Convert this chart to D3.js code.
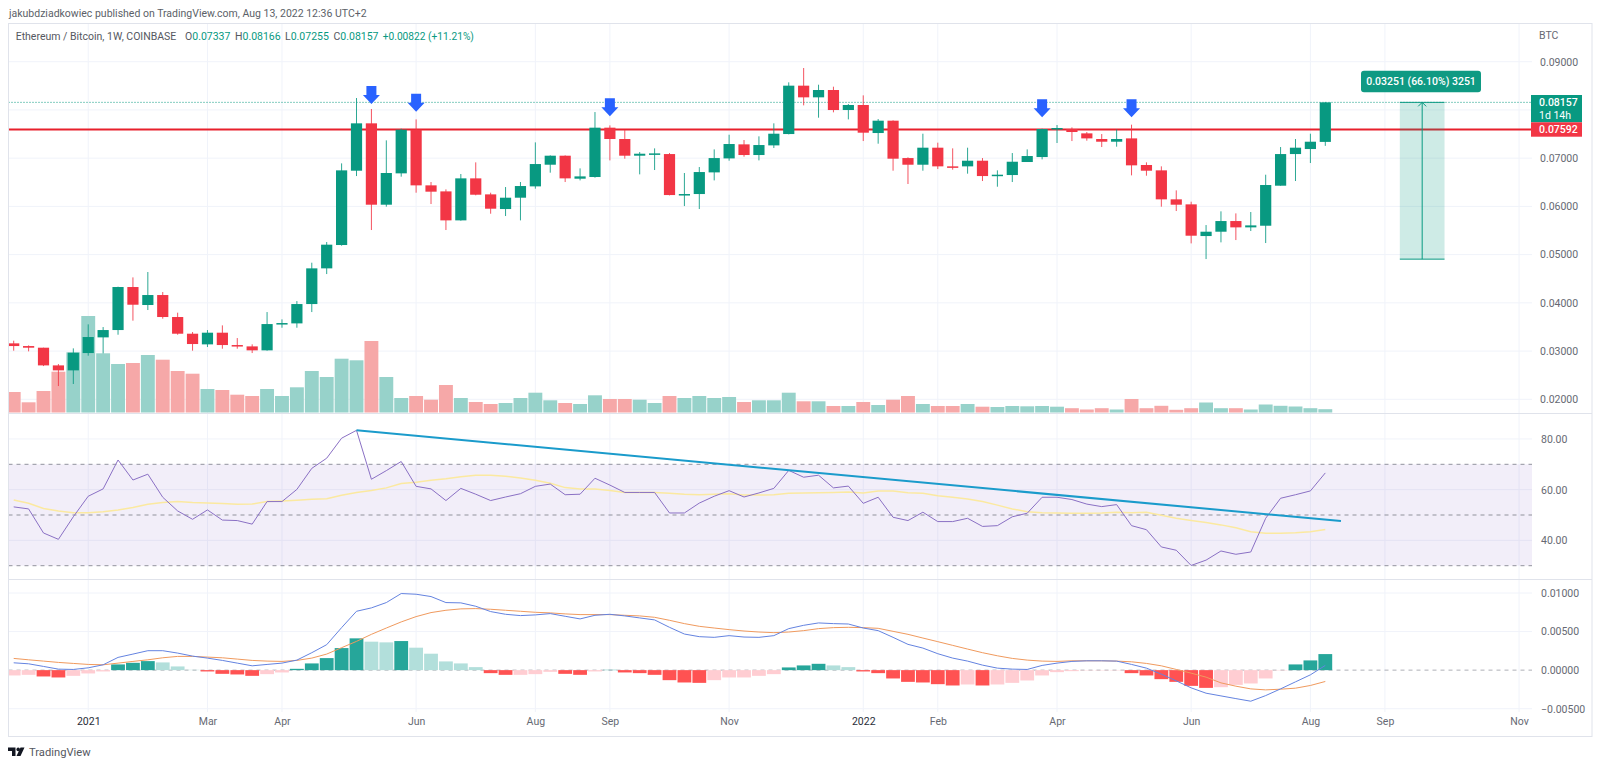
<!DOCTYPE html>
<html>
<head>
<meta charset="utf-8">
<title>ETHBTC 1W</title>
<script src="https://cdn.jsdelivr.net/npm/d3@7"></script>
<style>
    html, body { margin: 0; padding: 0; background: #fff; }
    svg { display: block; font-family: Roboto, sans-serif; }
</style>
</head>
<body>
<div id="chart"></div>
<script>
const opens = [
    .03160,.03104,.03070,.02703,.02600,.02959,.03284,.03436,.04328,.03955,
    .04162,.03706,.03360,.03139,.03381,.03125,.03097,.03015,.03554,.03574,
    .03975,.04715,.05199,.06740,.07722,.06035,.06685,.07590,.06436,.06311,
    .05710,.06581,.06249,.05945,.06180,.06415,.06864,.07051,.06574,.06609,
    .07632,.07397,.07051,.07072,.07085,.06235,.06256,.06705,.06995,.07286,
    .07065,.07265,.07500,.08503,.08261,.08413,.07998,.08102,.07521,.07777,
    .07002,.06864,.07217,.06830,.06830,.06947,.06629,.06650,.06920,.07023,
    .07604,.07604,.07514,.07397,.07341,.07410,.06858,.06747,.06146,.06042,
    .05385,.05475,.05696,.05565,.05599,.06429,.07085,.07189,.07337
];
const highs = [
    .03215,.03118,.03070,.02731,.03056,.03554,.03498,.04335,.04528,.04639,
    .04224,.03796,.03395,.03436,.03533,.03270,.03139,.03809,.03657,.04037,
    .04832,.05261,.06892,.08247,.08019,.07369,.07611,.07804,.06505,.06353,
    .06671,.06913,.06284,.06401,.06505,.07327,.07058,.07058,.06788,.07956,
    .07680,.07583,.07127,.07203,.07106,.06692,.06816,.07182,.07486,.07376,
    .07452,.07722,.08572,.08869,.08523,.08482,.08122,.08302,.07811,.07784,
    .07017,.07507,.07321,.07203,.07217,.07002,.06747,.07106,.07182,.07611,
    .07687,.07638,.07542,.07500,.07597,.07694,.06913,.06830,.06332,.06097,
    .05613,.05897,.05855,.05883,.06657,.07231,.07397,.07507,.08166
];
const lows = [
    .03008,.02994,.02689,.02275,.02317,.02904,.02952,.03339,.03630,.03851,
    .03671,.03339,.03008,.03084,.03049,.03049,.02959,.03008,.03484,.03484,
    .03809,.04597,.05185,.06629,.05510,.05994,.06616,.06284,.06049,.05510,
    .05703,.06229,.05848,.05800,.05710,.06367,.06699,.06505,.06539,.06595,
    .06954,.06989,.06664,.06754,.06228,.06007,.05945,.06539,.06947,.07030,
    .06954,.07210,.07493,.08095,.07839,.07950,.07804,.07355,.07300,.06740,
    .06464,.06740,.06774,.06761,.06678,.06526,.06408,.06505,.06920,.06975,
    .07314,.07355,.07362,.07231,.07238,.06643,.06636,.05994,.05904,.05233,
    .04908,.05254,.05302,.05489,.05240,.06429,.06526,.06899,.07255
];
const closes = [
    .03104,.03070,.02703,.02600,.02966,.03291,.03436,.04328,.03961,.04162,
    .03706,.03360,.03146,.03381,.03125,.03104,.03015,.03560,.03581,.03975,
    .04715,.05206,.06747,.07722,.06035,.06692,.07590,.06436,.06305,.05710,
    .06581,.06242,.05952,.06180,.06422,.06878,.07051,.06581,.06622,.07632,
    .07397,.07051,.07092,.07099,.06235,.06256,.06712,.07002,.07293,.07065,
    .07272,.07507,.08503,.08261,.08413,.07998,.08102,.07528,.07777,.06989,
    .06864,.07217,.06830,.06809,.06947,.06629,.06657,.06926,.07044,.07604,
    .07625,.07542,.07410,.07341,.07397,.06851,.06740,.06146,.06035,.05392,
    .05475,.05696,.05565,.05606,.06443,.07085,.07217,.07341,.08157
];
// объём в условных единицах
const volumes = [
    20.5,10.2,21.5,40.8,60.2,96.5,59.2,48.5,49.5,57.5,
    52.8,41.5,38.8,23.5,22.5,17.8,16.5,23.5,16.5,25.2,
    41.5,35.5,53.8,52.2,71.5,35.5,14.5,16.5,12.8,27.5,
    14.5,10.5,8.5,9.5,14.5,19.8,12.2,9.5,8.5,17.2,
    13.5,13.5,12.8,9.5,16.5,14.5,16.5,14.5,15.5,10.5,
    12.2,12.2,19.8,11.2,11.2,6.5,6.5,10.5,7.5,12.8,
    16.5,8.5,6.5,6.5,8.5,5.8,5.5,6.5,6.2,6.5,
    5.8,4.3,3,4.3,3,13.5,4.3,6.7,2.7,4.3,
    10,4.3,4.3,3,8,6.7,6,4.3,3.3
];
const rsiValues = [
    53.2,52.4,42.9,40.4,49.3,57.4,60.3,71.7,63.8,66.1,
    57.0,51.6,48.3,52.0,48.0,47.8,46.4,55.3,55.3,60.1,
    68.4,72.4,80.3,83.4,64.1,67.5,71.1,61.3,60.3,55.7,
    60.5,58.2,55.7,57.1,58.4,61.3,62.2,58.0,58.2,64.5,
    61.8,58.9,58.9,58.9,50.8,50.8,54.7,57.4,59.6,57.1,
    58.7,60.5,67.6,64.9,65.7,60.7,61.4,54.6,57.0,49.1,
    47.8,51.1,47.4,47.4,48.7,45.5,45.8,49.3,50.7,57.0,
    57.0,56.1,54.3,53.3,54.1,45.8,44.2,37.4,36.1,30.1,
    32.2,35.8,34.5,35.4,48.7,56.6,58.0,59.5,66.6
];
const rsiMa = [
    55.9,54.6,52.6,51.6,50.9,50.9,51.3,52.0,53.0,54.2,
    54.9,55.3,54.9,54.7,54.5,54.2,54.3,55.3,55.5,55.8,
    56.2,56.4,57.8,58.9,59.7,60.7,62.4,62.9,63.7,64.3,
    65.1,65.7,65.7,65.3,64.6,63.7,62.5,60.8,60.3,60.3,
    59.7,58.9,58.9,58.9,58.6,58.2,58.0,58.2,58.4,57.9,
    57.9,58.0,58.6,58.7,58.8,58.9,59.1,58.7,59.5,59.5,
    58.8,58.6,57.6,57.0,56.3,55.3,53.9,52.4,51.3,50.9,
    50.8,50.7,50.7,50.8,51.1,50.9,51.1,49.9,48.7,47.8,
    47.0,46.1,45.0,43.4,42.8,42.8,43.0,43.4,44.3
];
const macdLine = [
    .00095,.00082,.00048,.00013,.00009,.00030,.00069,.00165,.00208,.00252,
    .00252,.00221,.00182,.00156,.00126,.00091,.00056,.00074,.00091,.00130,
    .00226,.00330,.00551,.00763,.00807,.00876,.00993,.00984,.00954,.00876,
    .00872,.00828,.00759,.00724,.00707,.00716,.00733,.00698,.00664,.00711,
    .00724,.00703,.00677,.00651,.00555,.00468,.00434,.00425,.00447,.00429,
    .00425,.00447,.00538,.00581,.00612,.00603,.00598,.00546,.00512,.00425,
    .00334,.00286,.00213,.00156,.00117,.00065,.00026,.00013,.00009,.00061,
    .00091,.00113,.00121,.00121,.00117,.00074,.00026,-.00052,-.00139,-.00230,
    -.00299,-.00334,-.00369,-.00403,-.00330,-.00243,-.00152,-.00061,.00061
];
const signalLine = [
    .00152,.00134,.00117,.00100,.00087,.00074,.00069,.00091,.00113,.00134,
    .00160,.00178,.00178,.00169,.00160,.00143,.00126,.00117,.00113,.00126,
    .00156,.00208,.00291,.00373,.00464,.00546,.00625,.00694,.00746,.00776,
    .00794,.00798,.00789,.00776,.00763,.00750,.00742,.00729,.00720,.00720,
    .00720,.00711,.00703,.00685,.00646,.00603,.00568,.00546,.00525,.00507,
    .00494,.00486,.00494,.00512,.00538,.00551,.00555,.00551,.00542,.00503,
    .00464,.00416,.00369,.00321,.00273,.00226,.00186,.00152,.00130,.00117,
    .00113,.00121,.00121,.00121,.00117,.00108,.00087,.00056,.00009,-.00039,
    -.00091,-.00165,-.00208,-.00243,-.00256,-.00247,-.00234,-.00199,-.00147
];
const histValues = [
    -.00069,-.00061,-.00082,-.00095,-.00074,-.00043,-.00017,.00074,.00095,.00117,
    .00100,.00048,.00004,-.00017,-.00048,-.00056,-.00074,-.00052,-.00030,.00017,
    .00087,.00156,.00286,.00412,.00369,.00360,.00377,.00291,.00213,.00113,
    .00087,.00039,-.00039,-.00061,-.00061,-.00052,-.00022,-.00048,-.00061,-.00017,
    .00004,-.00030,-.00039,-.00061,-.00130,-.00160,-.00165,-.00130,-.00095,-.00095,
    -.00074,-.00052,.00035,.00061,.00082,.00061,.00039,-.00017,-.00039,-.00108,
    -.00152,-.00160,-.00182,-.00199,-.00186,-.00199,-.00186,-.00165,-.00134,-.00069,
    -.00026,-.00013,-.00004,-.00004,-.00004,-.00039,-.00069,-.00117,-.00152,-.00204,
    -.00230,-.00221,-.00191,-.00173,-.00108,-.00004,.00074,.00126,.00208
];

const tickBars = [5, 13, 18, 27, 35, 40, 48, 57, 62, 70, 79, 87, 92, 101];
const tickLabels = ['2021', 'Mar', 'Apr', 'Jun', 'Aug', 'Sep', 'Nov', '2022', 'Feb', 'Apr', 'Jun', 'Aug', 'Sep', 'Nov'];
const priceTicks = [.02, .03, .04, .05, .06, .07, .08, .09];
const priceLabelTicks = [.02, .03, .04, .05, .06, .07, .09];  // 0.08 закрыта меткой цены
const rsiTicks = [40, 60, 80];
const rsiBands = [30, 50, 70];
const macdTicks = [-.005, 0, .005, .01];

const supportLevel = 0.07592;
const arrowBars = [24, 27, 40, 69, 75];
const arrowTips = [.08122, .07963, .07867, .07846, .07846];
const trendBars = [23, 89.05];
const trendValues = [83.4, 47.6];
const measureBars = [93, 96];
const measurePrices = [.04906, .08157];

const legendNames = ['O', 'H', 'L', 'C'];
const legendValues = ['0.07337', '0.08166', '0.07255', '0.08157'];
const legendLefts = [185, 235, 285, 333.5];

const GREEN = '#089981', RED = '#f23645';
const GRID = '#f0f3fa', BORDER = '#e0e3eb', TEXT = '#666973';
const paneLeft = 8.5, paneRight = 1532, frameRight = 1592;

const svg = d3.select('#chart').append('svg').attr('width', 1600).attr('height', 767);

const x = d3.scaleLinear().domain([0, 88]).range([13.7, 1325.3]);
const yPrice = d3.scaleLinear().domain([.02, .09]).range([399.3, 61.7]);
const yVol = d3.scaleLinear().domain([0, 100]).range([412.5, 312.5]);
const yRsi = d3.scaleLinear().domain([30, 70]).range([565.7, 464.3]);
const yMacd = d3.scaleLinear().domain([-.005, .01]).range([708.7, 593]);

svg.append('defs').append('clipPath').attr('id', 'pane')
    .append('rect').attr('x', paneLeft).attr('y', 24).attr('width', paneRight - paneLeft).attr('height', 688);
const plot = svg.append('g').attr('clip-path', 'url(#pane)');

// Сетка
plot.append('g').selectAll('line').data(tickBars).join('line')
    .attr('x1', d => x(d)).attr('x2', d => x(d))
    .attr('y1', 24).attr('y2', 712)
    .attr('stroke', GRID);

function gridLines(ticks, scale) {
    plot.append('g').selectAll('line').data(ticks).join('line')
        .attr('x1', paneLeft).attr('x2', paneRight)
        .attr('y1', d => scale(d)).attr('y2', d => scale(d))
        .attr('stroke', GRID);
}
gridLines(priceTicks, yPrice);
gridLines(rsiTicks, yRsi);
gridLines(macdTicks.filter(d => d !== 0), yMacd);

// Объём
const isUp = i => closes[i] >= opens[i];
plot.append('g').selectAll('rect').data(volumes).join('rect')
    .attr('x', (d, i) => x(i) - 6.95).attr('width', 13.9)
    .attr('y', d => yVol(d)).attr('height', d => yVol(0) - yVol(d))
    .attr('fill', (d, i) => isUp(i) ? '#97d2ca' : '#f6a8a8');

// Уровень и линия последней цены
plot.append('line')
    .attr('x1', paneLeft).attr('x2', paneRight)
    .attr('y1', yPrice(supportLevel)).attr('y2', yPrice(supportLevel))
    .attr('stroke', '#e8202c').attr('stroke-width', 2);
plot.append('line')
    .attr('x1', paneLeft).attr('x2', paneRight)
    .attr('y1', yPrice(closes[88])).attr('y2', yPrice(closes[88]))
    .attr('stroke', GREEN).attr('stroke-dasharray', '1 2');

// Инструмент измерения
const measure = svg.append('g');
const measureMid = (measureBars[0] + measureBars[1]) / 2;
measure.append('rect')
    .attr('x', x(measureBars[0])).attr('width', x(measureBars[1]) - x(measureBars[0]))
    .attr('y', yPrice(measurePrices[1])).attr('height', yPrice(measurePrices[0]) - yPrice(measurePrices[1]))
    .attr('fill', GREEN).attr('fill-opacity', 0.2);
measure.selectAll('line.edge').data(measurePrices).join('line')
    .attr('class', 'edge')
    .attr('x1', x(measureBars[0])).attr('x2', x(measureBars[1]))
    .attr('y1', d => yPrice(d)).attr('y2', d => yPrice(d))
    .attr('stroke', GREEN);
measure.append('line')
    .attr('x1', x(measureMid)).attr('x2', x(measureMid))
    .attr('y1', yPrice(measurePrices[0])).attr('y2', yPrice(measurePrices[1]))
    .attr('stroke', GREEN);
measure.append('path')
    .attr('transform', `translate(${x(measureMid)},${yPrice(measurePrices[1])})`)
    .attr('d', 'M-4,4L0,0L4,4')
    .attr('fill', 'none').attr('stroke', GREEN);
measure.append('rect')
    .attr('x', 1361).attr('y', 70.7).attr('width', 120).attr('height', 21.6).attr('rx', 3)
    .attr('fill', '#0f9a83');
measure.append('text')
    .attr('x', 1421).attr('y', 85.2).attr('text-anchor', 'middle')
    .attr('font-size', 10.5).attr('font-weight', 500).attr('fill', '#fff')
    .text('0.03251 (66.10%) 3251');

// Свечи
const candles = plot.append('g').selectAll('g').data(opens).join('g')
    .attr('fill', (d, i) => isUp(i) ? GREEN : RED)
    .attr('stroke', (d, i) => isUp(i) ? GREEN : RED);
candles.append('line')
    .attr('x1', (d, i) => x(i)).attr('x2', (d, i) => x(i))
    .attr('y1', (d, i) => yPrice(highs[i])).attr('y2', (d, i) => yPrice(lows[i]))
    .attr('stroke-opacity', 0.85);
candles.append('rect')
    .attr('stroke', 'none')
    .attr('x', (d, i) => x(i) - 5.6).attr('width', 11.2)
    .attr('y', (d, i) => yPrice(Math.max(opens[i], closes[i])))
    .attr('height', (d, i) => Math.max(Math.abs(yPrice(opens[i]) - yPrice(closes[i])), 1.5));

// Стрелки
svg.append('g').selectAll('path').data(arrowBars).join('path')
    .attr('transform', (d, i) => `translate(${x(d)},${yPrice(arrowTips[i])})`)
    .attr('d', 'M0,0L-8.5,-9L-5,-9L-5,-18L5,-18L5,-9L8.5,-9Z')
    .attr('fill', '#2962ff');

// RSI
plot.append('rect')
    .attr('x', paneLeft).attr('width', paneRight - paneLeft)
    .attr('y', yRsi(70)).attr('height', yRsi(30) - yRsi(70))
    .attr('fill', '#7e57c2').attr('fill-opacity', 0.1);
plot.append('g').selectAll('line').data(rsiBands).join('line')
    .attr('x1', paneLeft).attr('x2', paneRight)
    .attr('y1', d => yRsi(d)).attr('y2', d => yRsi(d))
    .attr('stroke', '#787b86').attr('stroke-opacity', 0.8).attr('stroke-dasharray', '4 4');

const rsiPath = d3.line().x((d, i) => x(i)).y(d => yRsi(d));
plot.append('path').datum(rsiMa).attr('d', rsiPath)
    .attr('fill', 'none').attr('stroke', '#fbe9a0').attr('stroke-width', 1.5);
plot.append('path').datum(rsiValues).attr('d', rsiPath)
    .attr('fill', 'none').attr('stroke', '#8a70c4').attr('stroke-width', 1);
plot.append('line')
    .attr('x1', x(trendBars[0])).attr('x2', x(trendBars[1]))
    .attr('y1', yRsi(trendValues[0])).attr('y2', yRsi(trendValues[1]))
    .attr('stroke', '#1a9bcb').attr('stroke-width', 2);

// MACD
plot.append('line')
    .attr('x1', paneLeft).attr('x2', paneRight)
    .attr('y1', yMacd(0)).attr('y2', yMacd(0))
    .attr('stroke', '#787b86').attr('stroke-opacity', 0.6).attr('stroke-dasharray', '4 4');

function histColor(d, i) {
    const rising = i === 0 || d >= histValues[i - 1];
    if (d >= 0) return rising ? '#26a69a' : '#b2dfdb';
    return rising ? '#ffcdd2' : '#ff5252';
}
plot.append('g').selectAll('rect').data(histValues).join('rect')
    .attr('x', (d, i) => x(i) - 6.9).attr('width', 13.8)
    .attr('y', d => yMacd(Math.max(d, 0)))
    .attr('height', d => Math.abs(yMacd(d) - yMacd(0)))
    .attr('fill', histColor);

const macdPath = d3.line().x((d, i) => x(i)).y(d => yMacd(d));
plot.append('path').datum(signalLine).attr('d', macdPath)
    .attr('fill', 'none').attr('stroke', '#f09a5e').attr('stroke-width', 1);
plot.append('path').datum(macdLine).attr('d', macdPath)
    .attr('fill', 'none').attr('stroke', '#6483e0').attr('stroke-width', 1);

// Рамка и разделители панелей
svg.append('rect')
    .attr('x', 8.5).attr('y', 23.5).attr('width', frameRight - 8.5).attr('height', 713)
    .attr('fill', 'none').attr('stroke', BORDER);
svg.selectAll('line.sep').data([413, 579]).join('line')
    .attr('class', 'sep')
    .attr('x1', 8.5).attr('x2', frameRight)
    .attr('y1', d => d + .5).attr('y2', d => d + .5)
    .attr('stroke', BORDER);

// Оси
function styleAxis(g) {
    g.select('.domain').remove();
    g.selectAll('.tick line').remove();
    g.selectAll('text').attr('fill', TEXT).attr('font-size', 10.5).attr('font-family', 'Roboto, sans-serif');
}
const signed = fmt => d => d3.format(fmt)(Math.abs(d)).replace(/^/, d < 0 ? '\u2212' : '');

svg.append('g').attr('transform', `translate(${paneRight},0)`)
    .call(d3.axisRight(yPrice).tickValues(priceLabelTicks).tickSize(0).tickPadding(8).tickFormat(d3.format('.5f')))
    .call(styleAxis);
svg.append('g').attr('transform', `translate(${paneRight},0)`)
    .call(d3.axisRight(yRsi).tickValues(rsiTicks).tickSize(0).tickPadding(9).tickFormat(d3.format('.2f')))
    .call(styleAxis);
svg.append('g').attr('transform', `translate(${paneRight},0)`)
    .call(d3.axisRight(yMacd).tickValues(macdTicks).tickSize(0).tickPadding(9).tickFormat(signed('.5f')))
    .call(styleAxis);
svg.append('g').attr('transform', 'translate(0,712)')
    .call(d3.axisBottom(x).tickValues(tickBars).tickSize(0).tickPadding(6).tickFormat((d, i) => tickLabels[i]))
    .call(styleAxis)
    .selectAll('text')
    .attr('fill', d => (d === 5 || d === 57) ? '#2a2e39' : TEXT);

// Метки цены
svg.append('rect').attr('x', 1531).attr('y', 95).attr('width', 51).attr('height', 27.3).attr('fill', GREEN);
svg.append('rect').attr('x', 1531).attr('y', 122.3).attr('width', 51).attr('height', 14.4).attr('fill', RED);
const tags = svg.append('g').attr('fill', '#fff').attr('font-size', 10.5).attr('font-weight', 500);
tags.append('text').attr('x', 1539).attr('y', 105.6).text(d3.format('.5f')(closes[88]));
tags.append('text').attr('x', 1539).attr('y', 118.8).attr('font-weight', 400).text('1d 14h');
tags.append('text').attr('x', 1539).attr('y', 133).text(d3.format('.5f')(supportLevel));

// Заголовки
svg.append('text').attr('x', 9).attr('y', 16.5)
    .attr('font-size', 10.5).attr('fill', '#5c5f68')
    .text('jakubdziadkowiec published on TradingView.com, Aug 13, 2022 12:36 UTC+2');
svg.append('text').attr('x', 15.7).attr('y', 40)
    .attr('font-size', 10.5).attr('fill', '#555861')
    .text('Ethereum / Bitcoin, 1W, COINBASE');
legendNames.forEach((name, i) => {
    const label = svg.append('text').attr('x', legendLefts[i]).attr('y', 40).attr('font-size', 10.5);
    label.append('tspan').attr('fill', '#555861').text(name);
    label.append('tspan').attr('fill', GREEN).text(legendValues[i]);
});
svg.append('text').attr('x', 382.7).attr('y', 40)
    .attr('font-size', 10.2).attr('fill', GREEN)
    .text('+0.00822 (+11.21%)');
svg.append('text').attr('x', 1539).attr('y', 38.5)
    .attr('font-size', 10.5).attr('fill', TEXT).text('BTC');

// Логотип
svg.append('path').attr('d', 'M8,747.5H15.5V756H12V751H8ZM20.5,747.5H24.5L20.5,756H16.5Z').attr('fill', '#131722');
svg.append('circle').attr('cx', 18.2).attr('cy', 749.4).attr('r', 1.8).attr('fill', '#131722');
svg.append('text').attr('x', 29).attr('y', 756)
    .attr('font-size', 11.2).attr('fill', '#555861').text('TradingView');
</script>
</body>
</html>
